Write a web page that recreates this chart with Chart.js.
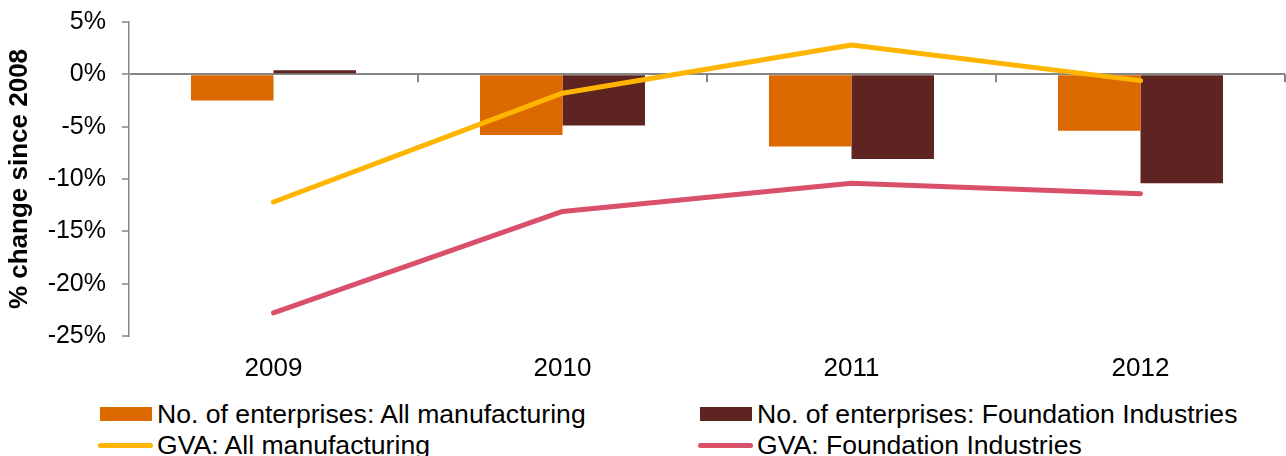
<!DOCTYPE html>
<html>
<head>
<meta charset="utf-8">
<script src="https://cdn.jsdelivr.net/npm/chart.js@4.4.0/dist/chart.umd.min.js"></script>
<style>
  body { margin: 0; background: #fff; font-family: Arial, "Liberation Sans", sans-serif; }
  #wrap { position: absolute; left: 0; top: 0; width: 1286px; height: 395px; }
  #legend { position: absolute; left: 98px; top: 401px; display: grid; grid-template-columns: 600px auto; row-gap: 5.5px; font-size: 26.6px; color: #000; }
  .item { display: flex; align-items: center; height: 26px; white-space: nowrap; }
  .box { width: 52px; height: 14px; margin-left: 2px; margin-right: 5px; }
  .line { width: 55px; height: 5px; border-radius: 2.5px; margin-right: 4px; }
</style>
</head>
<body>
<div id="wrap"><canvas id="myChart"></canvas></div>
<div id="legend"></div>
<script>
'use strict'

var years = ["2009", "2010", "2011", "2012"];
var entAll = [-2.5, -5.8, -6.9, -5.4];
var entFound = [0.4, -4.9, -8.1, -10.4];
var gvaAll = [-12.2, -1.8, 2.8, -0.6];
var gvaFound = [-22.8, -13.1, -10.4, -11.4];

var FONT = 'Arial, "Liberation Sans", sans-serif';
var GREY = '#868686';

// little tick marks on the zero line, between the years
var zeroTicks = {
  id: 'zeroTicks',
  afterDatasetsDraw: function(chart) {
    var xs = chart.scales.x, ys = chart.scales.y, c = chart.ctx;
    var y0 = ys.getPixelForValue(0);
    var half = (xs.getPixelForValue(1) - xs.getPixelForValue(0)) / 2;
    c.save();
    c.strokeStyle = GREY;
    c.lineWidth = 2;
    for (var i = 1; i <= years.length; i++) {
      var x = xs.getPixelForValue(i - 1) + half;
      c.beginPath();
      c.moveTo(x, y0);
      c.lineTo(x, y0 + 8);
      c.stroke();
    }
    c.restore();
  }
};

var ctx = document.getElementById("myChart");

var chart = new Chart(ctx, {
  type: 'bar',
  data: {
    labels: years,
    datasets: [{
      label: "No. of enterprises: All manufacturing",
      data: entAll,
      backgroundColor: '#DC6900',
      order: 1
    },
    {
      label: "No. of enterprises: Foundation Industries",
      data: entFound,
      backgroundColor: '#5E2421',
      order: 1
    },
    {
      type: 'line',
      label: "GVA: All manufacturing",
      data: gvaAll,
      borderColor: '#FFB400',
      backgroundColor: '#FFB400',
      borderWidth: 5,
      pointRadius: 0,
      borderCapStyle: 'round',
      borderJoinStyle: 'round',
      fill: false,
      order: 0
    },
    {
      type: 'line',
      label: "GVA: Foundation Industries",
      data: gvaFound,
      borderColor: '#D9506A',
      backgroundColor: '#D9506A',
      borderWidth: 5,
      pointRadius: 0,
      borderCapStyle: 'round',
      borderJoinStyle: 'round',
      fill: false,
      order: 0
    }]
  },
  options: {
    responsive: true,
    maintainAspectRatio: false,
    animation: false,
    categoryPercentage: 0.571,
    barPercentage: 1,
    layout: { padding: { top: 22, right: 1, left: 0, bottom: 0 } },
    plugins: {
      legend: { display: false },
      tooltip: { enabled: false }
    },
    scales: {
      x: {
        grid: { display: false, drawTicks: false },
        border: { display: false },
        ticks: { color: '#000', font: { family: FONT, size: 26 }, padding: 17 },
        afterFit: function(s) { s.height = 395 - 336; }
      },
      y: {
        min: -25,
        max: 5,
        ticks: {
          stepSize: 5,
          color: '#000',
          font: { family: FONT, size: 25 },
          padding: 16,
          callback: function(v) { return v + '%'; }
        },
        grid: {
          color: function(c) { return c.tick && c.tick.value === 0 ? GREY : 'transparent'; },
          lineWidth: 2,
          tickColor: GREY,
          tickWidth: 1.5,
          tickLength: 7
        },
        border: { color: GREY, width: 1.5 },
        title: {
          display: true,
          text: '% change since 2008',
          color: '#000',
          font: { family: FONT, size: 26, weight: 'bold' },
          padding: { top: 4.5, bottom: 0 }
        },
        afterFit: function(s) {
          s.width = 129;
          s.paddingTop = 0;
          s.paddingBottom = 0;
        }
      }
    }
  },
  plugins: [zeroTicks]
});

// legend below the chart, two columns
var legend = document.getElementById('legend');
chart.data.datasets.forEach(function(ds) {
  var item = document.createElement('div');
  item.className = 'item';
  var mark = document.createElement('span');
  mark.className = ds.type === 'line' ? 'line' : 'box';
  mark.style.background = ds.backgroundColor;
  var txt = document.createElement('span');
  txt.textContent = ds.label;
  item.appendChild(mark);
  item.appendChild(txt);
  legend.appendChild(item);
});
</script>
</body>
</html>
